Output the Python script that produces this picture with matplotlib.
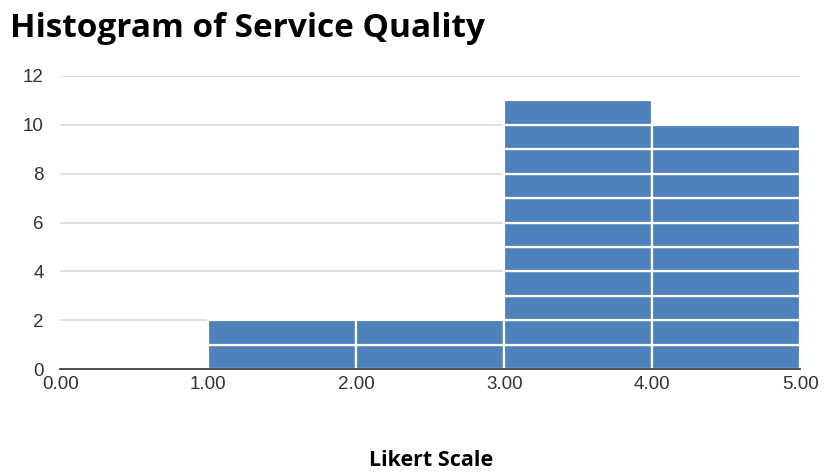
import numpy as np
from matplotlib import pyplot as plt

# Histogram bins on the Likert scale and the counts in each
bin_edges = [0, 1, 2, 3, 4, 5]
counts = [0, 2, 2, 11, 10]
y_ticks = [0, 2, 4, 6, 8, 10, 12]

bar_color = '#4F81BD'
grid_color = '#D9D9D9'

fig = plt.figure(figsize=(8.25, 4.72), dpi=100)
ax = fig.add_axes([0.073, 0.218, 0.897, 0.621])

lefts = np.array(bin_edges[:-1], dtype=float)
widths = np.diff(bin_edges)
counts = np.array(counts)

# each bar is built from unit blocks split by thin white lines
for k in range(counts.max()):
    mask = counts > k
    ax.bar(lefts[mask], 1, width=widths[mask], bottom=k, align='edge',
           color=bar_color, edgecolor='white', linewidth=1.6, zorder=2)

ax.set_xlim(bin_edges[0], bin_edges[-1])
ax.set_ylim(0, 12)
ax.set_xticks(bin_edges)
ax.set_xticklabels(['%.2f' % v for v in bin_edges])
ax.set_yticks(y_ticks)

ax.grid(axis='y', color=grid_color, linewidth=1.2, zorder=0)
ax.set_axisbelow(True)
for side in ['top', 'right', 'left']:
    ax.spines[side].set_visible(False)
ax.spines['bottom'].set_color('#404040')
ax.spines['bottom'].set_linewidth(1.3)
ax.spines['bottom'].set_zorder(3)

ax.tick_params(axis='both', length=0, labelsize=13.5, labelcolor='#333333')
ax.tick_params(axis='y', pad=12)
ax.tick_params(axis='x', pad=5)
for lbl in ax.get_xticklabels() + ax.get_yticklabels():
    lbl.set_family('Liberation Sans')

fig.text(0.012, 0.94, 'Histogram of Service Quality', fontsize=24,
         fontweight='bold', family='Open Sans', ha='left', va='center')
fig.text(0.522, 0.024, 'Likert Scale', fontsize=15.5, fontweight='bold',
         family='Open Sans', ha='center', va='center')

plt.savefig('out.png', dpi=100)
